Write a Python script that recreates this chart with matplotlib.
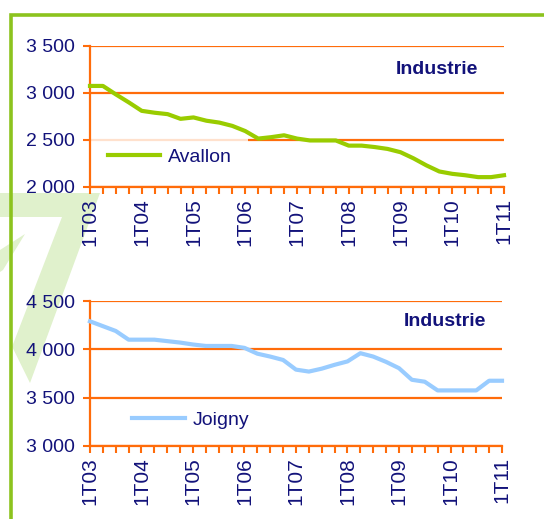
import matplotlib
matplotlib.use("Agg")
import matplotlib.pyplot as plt
from matplotlib.patches import Polygon
from matplotlib.lines import Line2D
from matplotlib.ticker import FuncFormatter, FixedLocator

plt.rcParams["font.family"] = ["Liberation Sans", "DejaVu Sans"]

# quarterly points 1T03 .. 1T11
quarters = [f"{q}T{y:02d}" for y in range(3, 12) for q in range(1, 5)][:33]
tick_labels = [q if q.startswith("1T") else "" for q in quarters]

avallon = [3075, 3075, 2985, 2900, 2810, 2790, 2775, 2725, 2740, 2705, 2685,
           2650, 2595, 2515, 2530, 2550, 2515, 2495, 2495, 2495, 2440, 2440,
           2425, 2405, 2370, 2305, 2230, 2165, 2140, 2125, 2105, 2105, 2125]
joigny = [4290, 4240, 4190, 4100, 4100, 4100, 4085, 4070, 4050, 4035, 4035,
          4035, 4015, 3955, 3925, 3890, 3790, 3770, 3800, 3840, 3875, 3960,
          3925, 3870, 3805, 3685, 3665, 3575, 3575, 3575, 3575, 3675, 3675]

ORANGE = "#ff6c0a"
NAVY = "#12127a"
FRAME = "#8cc31e"
W, H = 544, 519


def px(x, y):
    return (x / W, 1 - y / H)


fig = plt.figure(figsize=(W / 100, H / 100), dpi=100)

# faint green watermark on the left, kept behind everything
wm = "#e0f1cc"
for pts, col in [
    ([(0, 193), (100, 193), (30, 383), (0, 322)], wm),
    ([(0, 217), (62, 217), (10, 352), (0, 330)], "white"),
    ([(0, 250), (25, 234), (3, 270), (0, 272)], wm),
]:
    fig.patches.append(Polygon([px(x, y) for x, y in pts], closed=True,
                               transform=fig.transFigure, fc=col, ec="none", zorder=-2))

# green frame lines (left and top)
fig.lines.append(Line2D([px(11, 0)[0], px(11, 0)[0], 1.0],
                        [0.0, px(0, 14.5)[1], px(0, 14.5)[1]],
                        transform=fig.transFigure, color=FRAME, lw=2.6,
                        solid_joinstyle="miter", zorder=-1))


def style_axis(ax, ylo, yhi):
    ax.set_facecolor("none")
    ax.set_xlim(0, len(quarters) - 1)
    ax.set_ylim(ylo, yhi)
    ax.yaxis.set_major_locator(FixedLocator([ylo, ylo + 500, ylo + 1000, yhi]))
    ax.yaxis.set_major_formatter(FuncFormatter(lambda v, p: f"{int(v):,}".replace(",", " ")))
    ax.set_xticks(range(len(quarters)))
    ax.set_xticklabels(tick_labels, rotation=90)
    for s in ("top", "right"):
        ax.spines[s].set_visible(False)
    for s in ("left", "bottom"):
        ax.spines[s].set_color(ORANGE)
        ax.spines[s].set_linewidth(1.6)
        ax.spines[s].set_zorder(3)
    ax.grid(axis="y", color=ORANGE, lw=1.6)
    ax.set_axisbelow(True)
    ax.tick_params(axis="x", colors=ORANGE, length=5, width=1.5, labelcolor=NAVY,
                   labelsize=15, pad=3)
    ax.tick_params(axis="y", colors=ORANGE, length=5, width=1.5, labelcolor=NAVY,
                   labelsize=14, pad=6)


ax1 = fig.add_axes([0.1654, 0.6397, 0.7611, 0.2717])
style_axis(ax1, 2000, 3500)
ax1.plot(range(len(avallon)), avallon, color="#99cc00", lw=3, label="Avallon",
         solid_joinstyle="round", clip_on=False, zorder=4)
ax1.text(0.838, 0.83, "Industrie", transform=ax1.transAxes, ha="center", va="center",
         color=NAVY, fontsize=14, fontweight="bold")
leg1 = ax1.legend(loc="center left", bbox_to_anchor=(0.003, 0.21), frameon=True,
                  facecolor="white", edgecolor="none", framealpha=0.8, fancybox=False,
                  fontsize=14, handlelength=2.7, handletextpad=0.4, borderpad=0.85,
                  borderaxespad=0.0)
leg1.set_zorder(2)
for t in leg1.get_texts():
    t.set_color(NAVY)

ax2 = fig.add_axes([0.1654, 0.1407, 0.7574, 0.2793])
style_axis(ax2, 3000, 4500)
ax2.plot(range(len(joigny)), joigny, color="#99ccff", lw=3, label="Joigny",
         solid_joinstyle="round", clip_on=False, zorder=4)
ax2.text(0.862, 0.862, "Industrie", transform=ax2.transAxes, ha="center", va="center",
         color=NAVY, fontsize=14, fontweight="bold")
leg2 = ax2.legend(loc="center left", bbox_to_anchor=(0.06, 0.18), frameon=False,
                  fontsize=14, handlelength=2.7, handletextpad=0.4)
for t in leg2.get_texts():
    t.set_color(NAVY)

fig.savefig("out.png", dpi=100)
